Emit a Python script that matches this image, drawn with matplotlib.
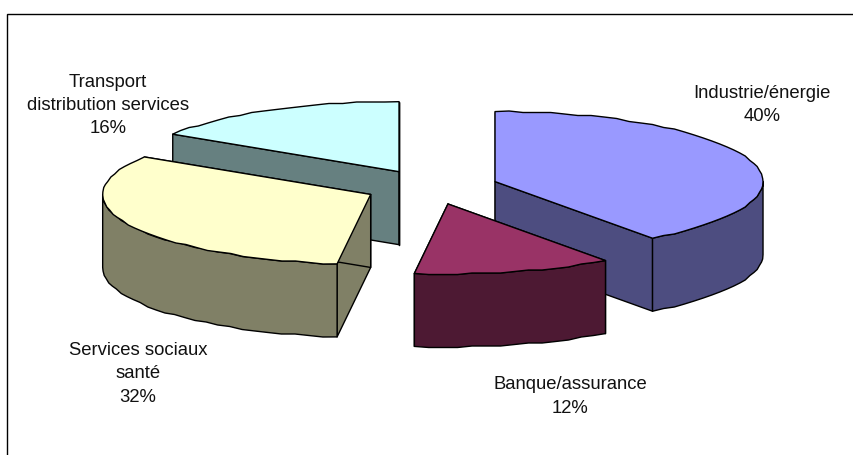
import numpy as np
import matplotlib
matplotlib.use("Agg")
import matplotlib.pyplot as plt
from matplotlib.patches import Polygon

# Share of each sector, clockwise from twelve o'clock
sectors = ["Industrie/énergie", "Banque/assurance", "Services sociaux\nsanté",
           "Transport\ndistribution services"]
shares = [40, 12, 32, 16]
top_colors = ["#9999FF", "#993366", "#FFFFCC", "#CCFFFF"]
side_colors = ["#4D4D80", "#4D1933", "#808066", "#668080"]
label_anchor = [(762, 105), (570, 396.5), (138, 374), (108, 105.5)]

W, H = 854, 455
CX, CY = 431.3, 187    # pie centre in pixels
RX, RY = 268, 70       # projected radii of the disc
DEPTH = 73             # height of the extruded pie
EXPLODE = 0.25         # slice separation, as a fraction of the radius
GRID = 1.5             # vertex rounding that gives the arcs their coarse outline

plt.rcParams["font.family"] = ["Liberation Sans"]

fig = plt.figure(figsize=(W / 100, H / 100), dpi=100)
ax = fig.add_axes([0, 0, 1, 1])
ax.set_xlim(0, W)
ax.set_ylim(H, 0)
ax.axis("off")


def arc(apex, a0, a1):
    """Rim points of a slice between two clockwise angles, in degrees."""
    n = max(2, int(abs(a1 - a0) / 3.0) + 1)
    t = np.radians(np.linspace(a0, a1, n))
    x = apex[0] + RX * np.sin(t)
    y = apex[1] - RY * np.cos(t)
    y[1:-1] = np.round(y[1:-1] / GRID) * GRID
    return np.column_stack([x, y])


def face(points, color, z):
    ax.add_patch(Polygon(points, closed=True, facecolor=color, edgecolor="black",
                         linewidth=1.0, joinstyle="round", zorder=z))


edges = np.cumsum([0] + shares) * 3.6
slices = []
for i in range(len(shares)):
    a0, a1 = edges[i], edges[i + 1]
    mid = np.radians((a0 + a1) / 2)
    apex = (CX + EXPLODE * RX * np.sin(mid), CY - EXPLODE * RY * np.cos(mid))
    slices.append((i, a0, a1, apex))

# Back slices first so the front ones overlap them
down = np.array([0, DEPTH])
for z, (i, a0, a1, apex) in enumerate(sorted(slices, key=lambda s: s[3][1])):
    base = z * 10
    for ang in (a0, a1):
        rim = arc(apex, ang, ang)[0]
        a = np.array(apex)
        face([a, rim, rim + down, a + down], side_colors[i], base + 1)
    lo, hi = max(a0, 90), min(a1, 270)
    if hi > lo:
        rim = arc(apex, lo, hi)
        face(np.vstack([rim, (rim + down)[::-1]]), side_colors[i], base + 2)
    face(np.vstack([[apex], arc(apex, a0, a1)]), top_colors[i], base + 3)

# Data labels
for name, share, (x, y) in zip(sectors, shares, label_anchor):
    ax.text(x, y, f"{name}\n{share}%", ha="center", va="center", fontsize=13.3,
            color="#111111", linespacing=1.47, zorder=100)

# Chart frame, running off the top right and bottom left
ax.plot([7.5, 7.5, W], [H, 13.5, 13.5], color="black", lw=1.0, zorder=101,
        solid_joinstyle="miter")

fig.savefig("out.png", dpi=100)
